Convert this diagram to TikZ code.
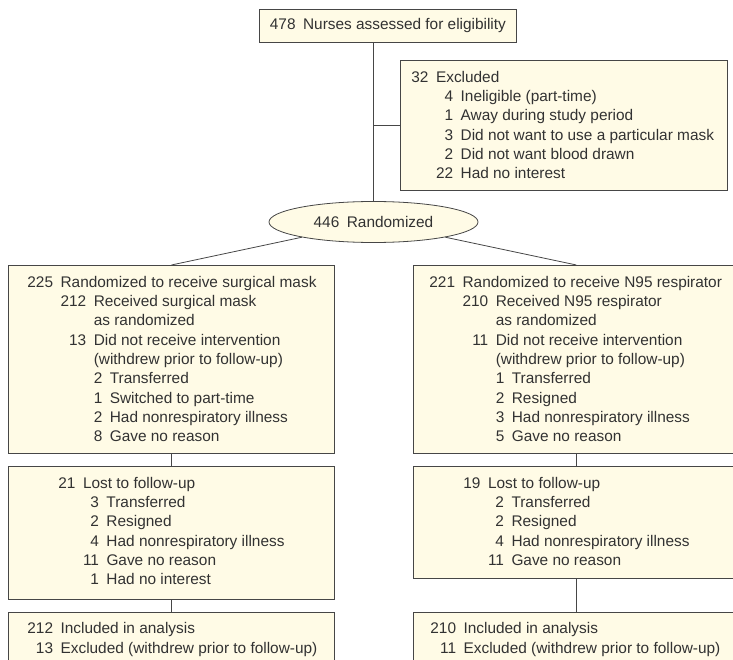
\documentclass[tikz,border=0pt]{standalone}
\usepackage{fontspec}
\setmainfont{Liberation Sans}
\usepackage{tikz}
\usetikzlibrary{shapes.geometric}

\definecolor{boxfill}{RGB}{255,251,230}
\definecolor{linegray}{RGB}{70,70,70}
\definecolor{textgray}{RGB}{50,50,50}

\newcommand{\numsep}{\hspace{7.5pt}}
\newcommand{\spanto}[2]{\multicolumn{#1}{@{}l@{}}{#2}}
\newcommand{\boxtext}[5]{\parbox[t][#2][t]{#1}{\vspace*{#4}\hspace*{#3}#5}}

\tikzset{
  flowbox/.style={draw=linegray, fill=boxfill, line width=0.8pt, inner sep=0pt, anchor=north west, text=textgray},
  flowline/.style={draw=linegray, line width=0.8pt},
}

\begin{document}
\begin{tikzpicture}[x=1pt, y=-1pt, font=\fontsize{15.4}{19.3}\selectfont]
        \useasboundingbox (0,0) rectangle (733,660);
        \clip (0,0) rectangle (733,660);

        % enrollment
        \node[flowbox, minimum width=257pt, minimum height=33pt] (elig) at (259,9) {478\numsep Nurses assessed for eligibility};

        \node[flowbox] (excl) at (400,60) {\boxtext{327pt}{130pt}{11pt}{8.3pt}{%
          \begin{tabular}[t]{@{}r@{\numsep}r@{\numsep}l@{}}
            32 & \spanto{2}{Excluded}\\
            & 4 & Ineligible (part-time)\\
            & 1 & Away during study period\\
            & 3 & Did not want to use a particular mask\\
            & 2 & Did not want blood drawn\\
            & 22 & Had no interest
          \end{tabular}}};

        \node[ellipse, draw=linegray, fill=boxfill, line width=0.8pt, minimum width=209pt, minimum height=41pt, inner sep=0pt, text=textgray] (rand) at (373.5,222) {446\numsep Randomized};

        % surgical mask arm
        \node[flowbox] (surg) at (8,265) {\boxtext{326pt}{188pt}{19pt}{8.3pt}{%
          \begin{tabular}[t]{@{}r@{\numsep}r@{\numsep}r@{\numsep}l@{}}
            225 & \spanto{3}{Randomized to receive surgical mask}\\
            & 212 & \spanto{2}{Received surgical mask}\\
            & & \spanto{2}{as randomized}\\
            & 13 & \spanto{2}{Did not receive intervention}\\
            & & \spanto{2}{(withdrew prior to follow-up)}\\
            & & 2 & Transferred\\
            & & 1 & Switched to part-time\\
            & & 2 & Had nonrespiratory illness\\
            & & 8 & Gave no reason
          \end{tabular}}};

        \node[flowbox] (surglost) at (8,466) {\boxtext{326pt}{133pt}{50pt}{8.3pt}{%
          \begin{tabular}[t]{@{}r@{\numsep}r@{\numsep}l@{}}
            21 & \spanto{2}{Lost to follow-up}\\
            & 3 & Transferred\\
            & 2 & Resigned\\
            & 4 & Had nonrespiratory illness\\
            & 11 & Gave no reason\\
            & 1 & Had no interest
          \end{tabular}}};

        \node[flowbox] (surgan) at (8,612) {\boxtext{326pt}{70pt}{19pt}{8pt}{%
          \begin{tabular}[t]{@{}r@{\numsep}l@{}}
            212 & Included in analysis\\
            13 & Excluded (withdrew prior to follow-up)
          \end{tabular}}};

        % N95 respirator arm
        \node[flowbox] (resp) at (413,265) {\boxtext{326pt}{188pt}{16pt}{8.3pt}{%
          \begin{tabular}[t]{@{}r@{\numsep}r@{\numsep}r@{\numsep}l@{}}
            221 & \spanto{3}{Randomized to receive N95 respirator}\\
            & 210 & \spanto{2}{Received N95 respirator}\\
            & & \spanto{2}{as randomized}\\
            & 11 & \spanto{2}{Did not receive intervention}\\
            & & \spanto{2}{(withdrew prior to follow-up)}\\
            & & 1 & Transferred\\
            & & 2 & Resigned\\
            & & 3 & Had nonrespiratory illness\\
            & & 5 & Gave no reason
          \end{tabular}}};

        \node[flowbox] (resplost) at (413,466) {\boxtext{326pt}{112pt}{50pt}{8.3pt}{%
          \begin{tabular}[t]{@{}r@{\numsep}r@{\numsep}l@{}}
            19 & \spanto{2}{Lost to follow-up}\\
            & 2 & Transferred\\
            & 2 & Resigned\\
            & 4 & Had nonrespiratory illness\\
            & 11 & Gave no reason
          \end{tabular}}};

        \node[flowbox] (respan) at (413,612) {\boxtext{326pt}{70pt}{17pt}{8pt}{%
          \begin{tabular}[t]{@{}r@{\numsep}l@{}}
            210 & Included in analysis\\
            11 & Excluded (withdrew prior to follow-up)
          \end{tabular}}};

        % connectors
        \draw[flowline] (rand.north |- elig.south) -- (rand.north);
        \draw[flowline] (rand.north |- excl.west) -- (excl.west);
        \draw[flowline] (rand) -- (surg.north);
        \draw[flowline] (rand) -- (resp.north);
        \draw[flowline] (surg) -- (surglost);
        \draw[flowline] (surglost) -- (surgan);
        \draw[flowline] (resp) -- (resplost);
        \draw[flowline] (resplost) -- (respan);
    \end{tikzpicture}
\end{document}
